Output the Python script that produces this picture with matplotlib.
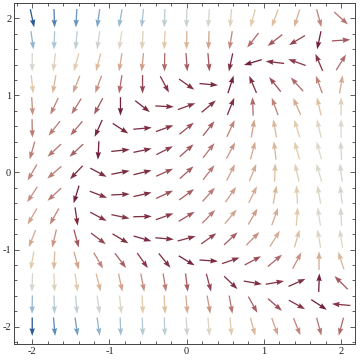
import numpy as np
import matplotlib
matplotlib.use("Agg")
import matplotlib.pyplot as plt
from matplotlib.colors import LinearSegmentedColormap
from matplotlib.ticker import MultipleLocator

# grid of arrow positions (15 x 15, from -2 to 2)
xs = np.linspace(-2, 2, 15)
ys = np.linspace(2, -2, 15)   # rows listed from top (y=2) to bottom (y=-2)

# arrow directions in degrees, row 0 = y=2
angles = [
    [-78, -88, -93, -98, -100, -96, -92, -91, -94, -95, -105, -110, -107, -75, -42],
    [-82, -92, -95, -98, -98, -94, -93, -91, -92, -99, -128, -142, -149, -102, 4],
    [-90, -97, -105, -105, -99, -96, -91, -86, -85, -102, -163, 173, 160, 113, 58],
    [-84, -100, -112, -110, -99, -90, -62, -35, -5, 72, 113, 129, 132, 110, 80],
    [-87, -115, -122, -118, -90, -38, -3, 20, 40, 68, 92, 110, 114, 103, 90],
    [-89, -128, -130, -114, -33, 5, 20, 39, 52, 65, 80, 100, 107, 103, 90],
    [-106, -137, -137, -93, 6, 12, 27, 42, 52, 62, 75, 97, 106, 105, 93],
    [-120, -139, -133, -28, 11, 14, 24, 42, 52, 63, 68, 88, 103, 106, 97],
    [-123, -137, -107, -21, 3, 13, 25, 36, 48, 55, 64, 80, 93, 100, 97],
    [-120, -119, -82, -28, -12, 1, 20, 31, 46, 50, 60, 70, 86, 99, 93],
    [-112, -103, -75, -37, -31, -16, -5, 15, 35, 43, 45, 58, 74, 100, 99],
    [-100, -93, -75, -60, -53, -55, -51, -31, -4, 19, 28, 40, 62, 90, 108],
    [-92, -88, -82, -76, -78, -79, -81, -83, -75, -44, -10, 10, 24, 88, 135],
    [-91, -88, -85, -82, -84, -87, -87, -85, -80, -80, -61, -41, -29, -33, 175],
    [-90, -85, -82, -82, -88, -88, -88, -87, -85, -85, -75, -70, -68, -75, -105],
]

# colour level of each arrow (0 = dark red ... 1 = dark blue)
levels = [
    [1.0, 0.92, 0.88, 0.84, 0.78, 0.74, 0.7, 0.66, 0.62, 0.56, 0.52, 0.48, 0.44, 0.32, 0.28],
    [0.8, 0.74, 0.7, 0.64, 0.6, 0.55, 0.5, 0.45, 0.4, 0.33, 0.25, 0.2, 0.15, 0.02, 0.2],
    [0.62, 0.56, 0.52, 0.47, 0.42, 0.38, 0.25, 0.22, 0.2, 0.08, 0.02, 0.08, 0.12, 0.1, 0.25],
    [0.5, 0.45, 0.4, 0.35, 0.25, 0.15, 0.1, 0.08, 0.06, 0.02, 0.08, 0.18, 0.25, 0.32, 0.42],
    [0.35, 0.32, 0.28, 0.2, 0.02, 0.06, 0.08, 0.1, 0.1, 0.08, 0.25, 0.32, 0.42, 0.48, 0.55],
    [0.3, 0.3, 0.25, 0.05, 0.05, 0.08, 0.1, 0.18, 0.22, 0.32, 0.4, 0.45, 0.52, 0.58, 0.6],
    [0.3, 0.28, 0.22, 0.02, 0.06, 0.08, 0.14, 0.2, 0.28, 0.36, 0.42, 0.45, 0.52, 0.6, 0.62],
    [0.32, 0.3, 0.08, 0.06, 0.06, 0.08, 0.18, 0.22, 0.3, 0.4, 0.42, 0.48, 0.54, 0.6, 0.62],
    [0.35, 0.3, 0.02, 0.08, 0.08, 0.08, 0.18, 0.22, 0.3, 0.38, 0.42, 0.45, 0.52, 0.58, 0.62],
    [0.4, 0.32, 0.06, 0.1, 0.1, 0.08, 0.12, 0.2, 0.3, 0.4, 0.38, 0.42, 0.5, 0.6, 0.62],
    [0.42, 0.36, 0.2, 0.15, 0.08, 0.06, 0.08, 0.1, 0.15, 0.22, 0.35, 0.42, 0.48, 0.58, 0.6],
    [0.52, 0.46, 0.4, 0.32, 0.22, 0.12, 0.08, 0.04, 0.06, 0.1, 0.18, 0.25, 0.35, 0.42, 0.45],
    [0.62, 0.56, 0.52, 0.45, 0.4, 0.35, 0.3, 0.22, 0.15, 0.08, 0.08, 0.1, 0.08, 0.02, 0.2],
    [0.78, 0.72, 0.68, 0.64, 0.6, 0.52, 0.48, 0.42, 0.36, 0.28, 0.22, 0.18, 0.1, 0.02, 0.1],
    [1.0, 0.9, 0.86, 0.8, 0.76, 0.72, 0.7, 0.65, 0.58, 0.52, 0.45, 0.4, 0.32, 0.28, 0.25],
]

tick_values = [-2, -1, 0, 1, 2]
tick_labels = ["-2", "-1", "0", "1", "2"]

cmap = LinearSegmentedColormap.from_list("redbluetones", [
    (0.0, "#6a1c35"),
    (0.12, "#8c3a4a"),
    (0.25, "#b06a6c"),
    (0.38, "#cf9c88"),
    (0.5, "#e2c9a8"),
    (0.6, "#dcd8cc"),
    (0.72, "#b8cbd6"),
    (0.85, "#7aa5c8"),
    (1.0, "#2b5a94"),
])

X, Y = np.meshgrid(xs, ys)
A = np.radians(np.array(angles, dtype=float))
L = 0.24
U = L * np.cos(A)
V = L * np.sin(A)
C = np.array(levels, dtype=float)

fig = plt.figure(figsize=(3.6, 3.61), dpi=100)
ax = fig.add_axes([14 / 360, 16.7 / 361, 341 / 360, 341.3 / 361])
ax.quiver(X, Y, U, V, C, cmap=cmap, norm=plt.Normalize(0, 1),
          angles="xy", scale_units="xy", scale=1, pivot="middle",
          width=0.0038, headwidth=4.2, headlength=6.0, headaxislength=5.4)

ax.set_xlim(-2.236, 2.18)
ax.set_ylim(-2.228, 2.198)

ax.set_xticks(tick_values)
ax.set_yticks(tick_values)
ax.set_xticklabels(tick_labels, family="Liberation Serif", fontsize=7.5, color="#222222")
ax.set_yticklabels(tick_labels, family="Liberation Serif", fontsize=7.5, color="#222222")
ax.xaxis.set_minor_locator(MultipleLocator(0.2))
ax.yaxis.set_minor_locator(MultipleLocator(0.2))
ax.tick_params(which="both", direction="in", top=True, right=True, color="#444444", width=0.6, pad=2)
ax.tick_params(which="major", length=3.5)
ax.tick_params(which="minor", length=2)
for s in ax.spines.values():
    s.set_color("#444444")
    s.set_linewidth(0.7)

fig.savefig("out.png", dpi=100)
